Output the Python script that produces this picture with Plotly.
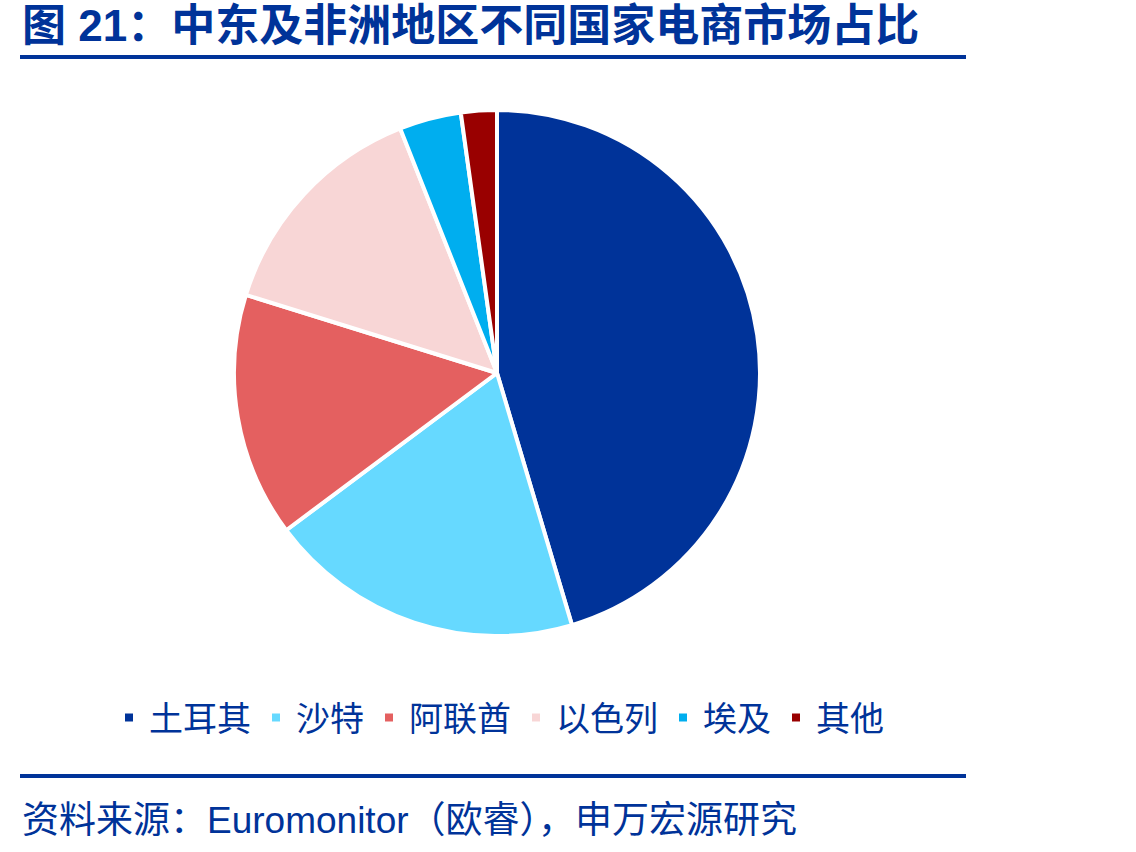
import plotly.graph_objects as go

W, H = 1136, 852

countries = ["土耳其", "沙特", "阿联酋", "以色列", "埃及", "其他"]
shares = [45.4, 19.4, 15.0, 14.2, 3.8, 2.2]
colors = ["#003399", "#66D9FF", "#E46060", "#F8D6D6", "#00AEEF", "#990000"]

title_text = "图 21：中东及非洲地区不同国家电商市场占比"
source_text = "资料来源：Euromonitor（欧睿），申万宏源研究"

BLUE = "#003399"
FONT = "Noto Sans CJK SC"
MIXED = "Liberation Sans, Noto Sans CJK SC"

def px_x(x):
    return x / W

def px_y(y):
    return 1 - y / H

fig = go.Figure()
fig.add_trace(go.Pie(
    labels=countries,
    values=shares,
    sort=False,
    direction="clockwise",
    rotation=0,
    marker=dict(colors=colors, line=dict(color="white", width=4)),
    textinfo="none",
    hoverinfo="label+percent",
    domain=dict(x=[px_x(234), px_x(760)], y=[px_y(636), px_y(110)]),
))

fig.update_layout(
    width=W, height=H,
    margin=dict(l=0, r=0, t=0, b=0),
    paper_bgcolor="white",
    plot_bgcolor="white",
    font=dict(family=FONT, color=BLUE),
    showlegend=True,
    legend=dict(
        orientation="h",
        x=px_x(499), xanchor="center",
        y=px_y(718), yanchor="middle",
        font=dict(size=34, color=BLUE, family=FONT),
        traceorder="normal",
    ),
    shapes=[
        dict(type="line", xref="paper", yref="paper",
             x0=px_x(20), x1=px_x(966), y0=px_y(57), y1=px_y(57),
             line=dict(color=BLUE, width=4)),
        dict(type="line", xref="paper", yref="paper",
             x0=px_x(20), x1=px_x(966), y0=px_y(776), y1=px_y(776),
             line=dict(color=BLUE, width=4)),
    ],
    annotations=[
        dict(text="<b>" + title_text + "</b>", xref="paper", yref="paper",
             x=px_x(20), y=px_y(25), xanchor="left", yanchor="middle",
             showarrow=False, font=dict(size=44, color=BLUE, family=MIXED)),
        dict(text=source_text, xref="paper", yref="paper",
             x=px_x(20), y=px_y(820), xanchor="left", yanchor="middle",
             showarrow=False, font=dict(size=37, color=BLUE, family=MIXED)),
    ],
)

fig.write_html("out.html")
